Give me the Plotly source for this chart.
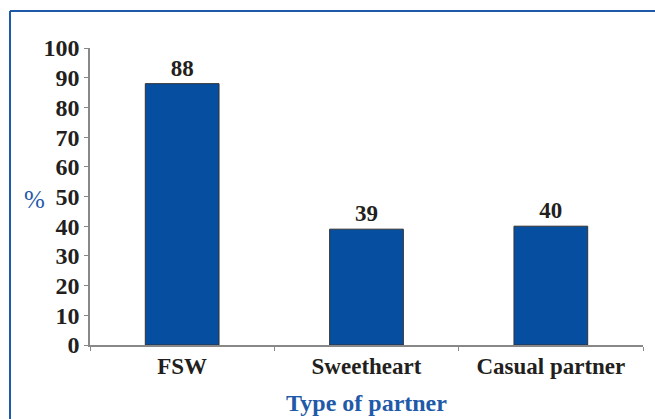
import plotly.graph_objects as go

categories = ["FSW", "Sweetheart", "Casual partner"]
values = [88, 39, 40]
y_ticks = [0, 10, 20, 30, 40, 50, 60, 70, 80, 90, 100]

W, H = 655, 419
ML, MR, MT, MB = 90, 12, 48, 74
pw = W - ML - MR
ph = H - MT - MB

def px_x(px):
    return (px - ML) / pw

def px_y(py):
    return (H - MB - py) / ph

font_family = "Liberation Serif"
blue = "#1f5aa8"
dark = "#231f20"

fig = go.Figure()
fig.add_trace(go.Bar(
    x=categories, y=values,
    marker=dict(color="#064ea0", line=dict(color="#333333", width=1)),
    text=[str(v) for v in values], textposition="outside",
    textfont=dict(family=font_family, size=23, color=dark, weight="bold"),
    cliponaxis=False,
    hoverinfo="skip",
))

fig.update_layout(
    width=W, height=H,
    margin=dict(l=ML, r=MR, t=MT, b=MB, autoexpand=False),
    paper_bgcolor="white", plot_bgcolor="white",
    bargap=0.6,
    showlegend=False,
    font=dict(family=font_family, color=dark),
    xaxis=dict(
        automargin=False,
        showline=True, linecolor="#888888", linewidth=1.5,
        ticks="outside", tickson="boundaries", ticklen=4, tickcolor="#888888",
        tickfont=dict(family=font_family, size=23, color=dark, weight="bold"),
        title=dict(text="<b>Type of partner</b>", font=dict(family=font_family, size=24, color=blue), standoff=16),
        showgrid=False,
    ),
    yaxis=dict(
        automargin=False,
        range=[0, 100], tickvals=y_ticks,
        showline=True, linecolor="#888888", linewidth=1.5,
        ticks="outside", ticklen=4, tickcolor="#888888",
        tickfont=dict(family=font_family, size=24, color=dark, weight="bold"),
        showgrid=False, zeroline=False,
    ),
    annotations=[dict(
        text="%", x=px_x(34), y=px_y(199), xref="paper", yref="paper",
        xanchor="center", yanchor="middle",
        showarrow=False, font=dict(family=font_family, size=25, color=blue),
    )],
    shapes=[
        dict(type="line", xref="paper", yref="paper", x0=px_x(10), x1=px_x(660), y0=px_y(11), y1=px_y(11),
             line=dict(color=blue, width=2)),
        dict(type="line", xref="paper", yref="paper", x0=px_x(10), x1=px_x(10), y0=px_y(11), y1=px_y(425),
             line=dict(color=blue, width=2)),
    ],
)

fig.write_html("out.html", config={"displayModeBar": False},
               post_script="document.body.style.margin='0';")
